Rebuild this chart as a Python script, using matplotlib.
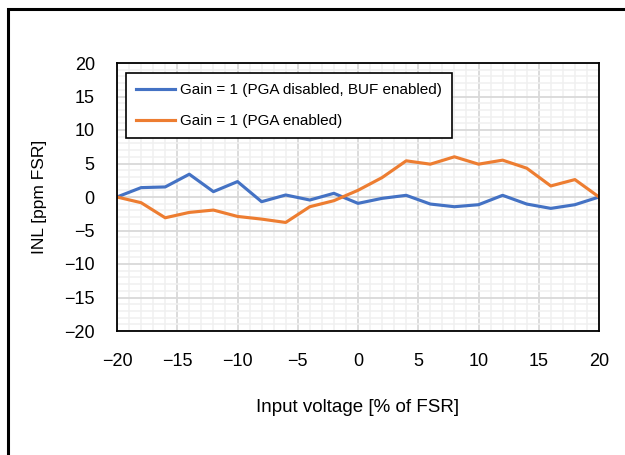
import matplotlib
matplotlib.use("Agg")
import matplotlib.pyplot as plt
from matplotlib.patches import Rectangle
from matplotlib.ticker import MultipleLocator

plt.rcParams['font.family'] = ['Liberation Sans', 'DejaVu Sans']

# INL vs input voltage, two gain configurations
x_pct = [-20, -18, -16, -14, -12, -10, -8, -6, -4, -2, 0,
         2, 4, 6, 8, 10, 12, 14, 16, 18, 20]
inl_buf = [0.0, 1.4, 1.5, 3.4, 0.8, 2.3, -0.7, 0.3, -0.45, 0.55, -0.95,
           -0.2, 0.25, -1.05, -1.45, -1.15, 0.25, -1.05, -1.7, -1.15, 0.0]
inl_pga = [0.0, -0.85, -3.1, -2.3, -1.95, -2.9, -3.3, -3.8, -1.45, -0.55, 1.0,
           2.9, 5.4, 4.9, 6.0, 4.9, 5.5, 4.3, 1.65, 2.6, 0.0]
labels = ["Gain = 1 (PGA disabled, BUF enabled)", "Gain = 1 (PGA enabled)"]
colors = ["#4472C4", "#ED7D31"]

W, H = 625, 455
fig = plt.figure(figsize=(W / 100, H / 100), dpi=100)
ax = fig.add_axes([117 / W, 1 - 331 / H, (599 - 117) / W, (331 - 63) / H])

ax.plot(x_pct, inl_buf, color=colors[0], lw=2.25, label=labels[0], solid_joinstyle='round')
ax.plot(x_pct, inl_pga, color=colors[1], lw=2.25, label=labels[1], solid_joinstyle='round')

ax.set_xlim(-20, 20)
ax.set_ylim(-20, 20)
ax.xaxis.set_major_locator(MultipleLocator(5))
ax.yaxis.set_major_locator(MultipleLocator(5))
ax.xaxis.set_minor_locator(MultipleLocator(1))
ax.yaxis.set_minor_locator(MultipleLocator(1))
ax.grid(which='major', color='#D9D9D9', lw=1.3)
ax.grid(which='minor', color='#F0F0F0', lw=1.1)
ax.set_axisbelow(True)
ax.tick_params(which='both', length=0, labelsize=13)
ax.tick_params(axis='x', pad=16)
ax.tick_params(axis='y', pad=16)
for s in ax.spines.values():
    s.set_color('black')
    s.set_linewidth(1.3)

ax.set_xlabel("Input voltage [% of FSR]", fontsize=13.5, labelpad=21)
ax.set_ylabel("INL [ppm FSR]", fontsize=12.5, labelpad=12)

leg = ax.legend(loc='upper left', bbox_to_anchor=((126 - 117) / 482, 1 - (73 - 63) / 268),
                fontsize=11, frameon=True, fancybox=False, framealpha=1,
                edgecolor='black', handlelength=2.55, handletextpad=0.33,
                labelspacing=1.15, borderpad=0.65, borderaxespad=0)
leg.get_frame().set_linewidth(1.2)

# outer chart border, cropped at right and bottom
fig.patches.append(Rectangle((7.5 / W, -0.1), 1.2, 1 - 8.5 / H + 0.1,
                             transform=fig.transFigure, fill=False,
                             edgecolor='black', lw=2.2))

fig.savefig("out.png", dpi=100)
